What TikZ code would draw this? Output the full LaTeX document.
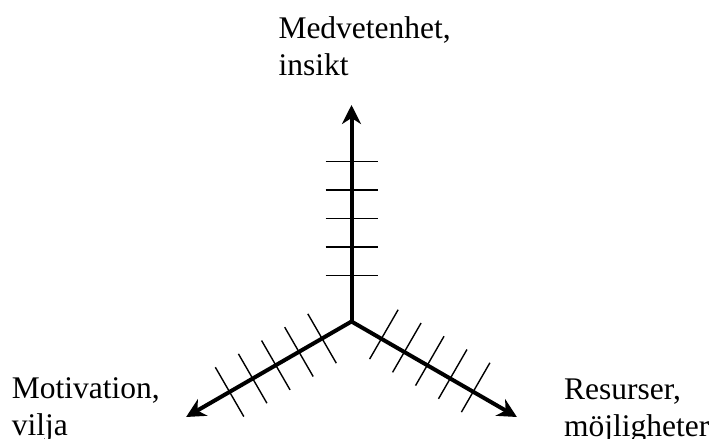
\documentclass[tikz,border=0pt]{standalone}
\usepackage{fontspec}
\setmainfont{Liberation Serif}
\usetikzlibrary{arrows.meta,calc}
\begin{document}
\begin{tikzpicture}[x=1pt,y=-1pt,
  axis/.style={line width=4pt,-{Stealth[length=19pt,width=19pt,inset=6pt]}},
  tickline/.style={line width=1.4pt},
  lab/.style={font=\fontsize{31.5}{37}\selectfont, align=left, anchor=north west, inner sep=0pt}]
\useasboundingbox (0,0) rectangle (715,439);
\coordinate (C) at (351.5,321.5);
\coordinate (T) at (351.5,105);
\coordinate (L) at ($(C)+(-165.4,95.5)$);
\coordinate (R) at ($(C)+(165.4,95.5)$);
% ticks on vertical axis
\foreach \k [evaluate=\k as \d using 46.2+28.4*\k] in {0,...,4} {
  \draw[tickline] ($(C)+(-26,-\d)$) -- ($(C)+(26,-\d)$);
}
% ticks on left axis
\foreach \k [evaluate=\k as \d using 34+26.7*\k] in {0,...,4} {
  \draw[tickline] ($(C)+(-0.866*\d+14.25,0.5*\d+24.68)$) -- ($(C)+(-0.866*\d-14.25,0.5*\d-24.68)$);
}
% ticks on right axis
\foreach \k [evaluate=\k as \d using 34.5+26.5*\k] in {0,...,4} {
  \draw[tickline] ($(C)+(0.866*\d+16.75,0.5*\d-29.0)$) -- ($(C)+(0.866*\d-11.75,0.5*\d+20.35)$);
}
\draw[axis] (C) -- (T);
\draw[axis] (C) -- (L);
\draw[axis] (C) -- (R);
\node[lab] (top) at (278.3,16.2) {Medvetenhet,\\insikt};
\node[lab] (left) at (11.7,377.8) {Motivation,\\vilja};
\node[lab] (right) at (564,378.4) {Resurser,\\möjligheter};
\end{tikzpicture}
\end{document}
